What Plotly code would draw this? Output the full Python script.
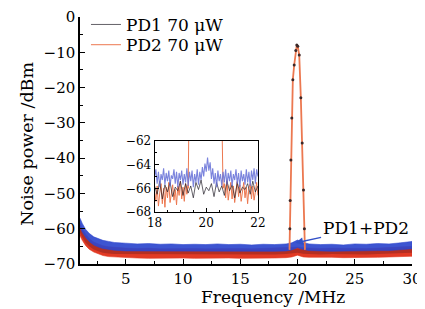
import numpy as np
import plotly.graph_objects as go

# ---------------- data ----------------
# main chart noise envelopes (MHz, dBm)
main_freq = [1.0, 1.2, 1.5, 1.8, 2.2, 2.6, 3.0, 3.5, 4, 5, 6, 7, 8, 9, 10, 11, 12, 13, 14, 15,
             16, 17, 18, 19, 19.5, 20, 20.5, 21, 22, 23, 24, 25, 26, 27, 28, 29, 30]
sum_upper = [-57.0, -58.5, -60.2, -61.3, -62.3, -62.9, -63.3, -63.6, -63.9, -64.1, -64.3, -64.2,
             -64.4, -64.3, -64.5, -64.4, -64.5, -64.3, -64.5, -64.4, -64.6, -64.4, -64.5, -64.3,
             -64.0, -63.2, -63.9, -64.3, -64.5, -64.4, -64.6, -64.3, -64.4, -64.2, -64.3, -64.0, -63.6]
sum_lower = [-59.5, -61.0, -62.5, -63.6, -64.6, -65.2, -65.6, -65.9, -66.1, -66.3, -66.4, -66.3,
             -66.5, -66.4, -66.5, -66.4, -66.5, -66.4, -66.5, -66.4, -66.5, -66.4, -66.4, -66.3,
             -66.0, -65.4, -65.9, -66.2, -66.3, -66.4, -66.3, -66.4, -66.3, -66.2, -66.2, -66.0, -65.7]
pd2_upper = [-58.5, -60.0, -61.6, -62.8, -63.8, -64.4, -64.8, -65.1, -65.3, -65.5, -65.6, -65.5,
             -65.7, -65.6, -65.7, -65.6, -65.7, -65.6, -65.7, -65.6, -65.7, -65.6, -65.6, -65.5,
             -65.4, -65.2, -65.4, -65.5, -65.6, -65.5, -65.6, -65.5, -65.6, -65.5, -65.4, -65.3, -65.0]
pd2_lower = [-62.0, -63.3, -64.8, -65.8, -66.6, -67.2, -67.6, -67.9, -68.1, -68.2, -68.3, -68.4,
             -68.3, -68.4, -68.3, -68.4, -68.3, -68.4, -68.3, -68.4, -68.3, -68.4, -68.3, -68.2,
             -68.0, -67.5, -68.0, -68.1, -68.2, -68.1, -68.2, -68.1, -68.2, -68.1, -68.0, -68.0, -67.8]
pd1_upper = [-59.0, -60.6, -62.2, -63.4, -64.4, -65.0, -65.4, -65.7, -65.9, -66.0, -66.1, -66.0,
             -66.1, -66.0, -66.1, -66.0, -66.1, -66.0, -66.1, -66.0, -66.1, -66.0, -66.0, -65.9,
             -65.8, -65.6, -65.8, -65.9, -66.0, -65.9, -66.0, -65.9, -66.0, -65.9, -65.8, -65.7, -65.5]
pd1_lower = [-61.0, -62.4, -64.0, -65.0, -65.9, -66.4, -66.8, -67.0, -67.2, -67.3, -67.4, -67.3,
             -67.4, -67.3, -67.4, -67.3, -67.4, -67.3, -67.4, -67.3, -67.4, -67.3, -67.3, -67.2,
             -67.1, -66.8, -67.1, -67.2, -67.3, -67.2, -67.3, -67.2, -67.3, -67.2, -67.1, -67.0, -66.8]

# 20 MHz signal peak
peak_freq = [19.30, 19.33, 19.36, 19.42, 19.50, 19.59, 19.71, 19.85, 19.94, 20.02, 20.15, 20.29,
             20.41, 20.52, 20.60, 20.65]
peak_pd2 = [-66.0, -60.0, -52.0, -40.5, -28.6, -17.8, -13.6, -9.5, -7.9, -8.3, -10.8, -22.9,
            -35.7, -49.0, -60.0, -66.0]
peak_pd1 = [-66.0, -60.0, -52.0, -40.5, -28.6, -17.8, -13.6, -9.5, -7.9, -8.3, -10.8, -22.9,
            -35.7, -49.0, -60.0, -66.0]

# inset (18-22 MHz)
inset_sum_freq = np.round(np.arange(18.0, 22.001, 0.05), 2)
inset_sum = [-65.0, -64.4, -65.6, -64.6, -65.9, -64.8, -65.3, -64.3, -65.7, -64.7, -65.4, -64.5,
             -65.8, -64.9, -65.2, -64.4, -65.6, -64.6, -65.9, -64.7, -65.3, -64.5, -65.7, -64.8,
             -65.5, -64.3, -65.8, -64.6, -65.4, -64.5, -65.9, -64.8, -65.5, -64.4, -65.7, -64.6,
             -65.3, -64.2, -65.0, -63.9, -64.6, -63.4, -64.5, -63.8, -65.2, -64.3, -65.6, -64.7,
             -65.9, -64.5, -65.4, -64.8, -65.8, -64.6, -65.5, -64.4, -65.7, -64.7, -65.4, -64.5,
             -65.8, -64.8, -65.3, -64.4, -65.6, -64.7, -65.9, -64.5, -65.4, -64.8, -65.7, -64.4,
             -65.5, -64.6, -65.8, -64.5, -65.3, -64.3, -65.6, -64.4, -65.0]
inset_pd2_left_freq = np.round(np.arange(18.0, 19.301, 0.05), 2)
inset_pd2_left = [-66.2, -67.1, -65.8, -67.5, -66.4, -65.6, -67.3, -66.0, -67.6, -65.9, -66.8,
                  -65.5, -67.2, -66.3, -65.7, -67.0, -66.1, -67.4, -65.8, -66.6, -65.4, -66.9,
                  -65.9, -67.1, -65.6, -66.5, -65.7]
inset_pd2_right_freq = np.round(np.arange(20.70, 22.001, 0.05), 2)
inset_pd2_right = [-65.6, -66.8, -65.3, -67.0, -66.1, -65.5, -66.9, -65.8, -67.2, -66.0, -65.4,
                   -66.7, -65.7, -67.1, -66.2, -65.5, -66.8, -65.9, -67.3, -66.0, -65.6, -66.9,
                   -65.8, -67.0, -66.3, -65.5, -66.6]
inset_pd1_freq = np.round(np.arange(18.0, 22.001, 0.1), 2)
inset_pd1 = [-65.8, -66.5, -65.4, -66.9, -65.7, -66.3, -65.5, -66.7, -65.9, -66.2, -65.4, -66.6,
             -65.6, -66.4, -65.8, -66.8, -65.5, -66.1, -65.3, -66.5, -65.9, -66.2, -65.6, -66.7,
             -65.5, -66.3, -65.8, -66.6, -65.4, -66.2, -65.7, -66.8, -65.5, -66.4, -65.9, -66.1,
             -65.6, -66.5, -65.4, -66.3, -65.8]

# ---------------- styling ----------------
FONT = "DejaVu Serif"
BLUE = "rgba(45,70,205,0.92)"
RED = "rgb(226,58,36)"
ORANGE = "rgb(236,120,80)"
INSET_BLUE = "rgba(100,110,215,0.85)"


def band(freq, upper, lower):
    f = list(freq)
    return f + f[::-1], list(upper) + list(lower)[::-1]


fig = go.Figure()

bx, by = band(main_freq, pd2_upper, pd2_lower)
fig.add_trace(go.Scatter(x=bx, y=by, fill="toself", fillcolor=RED, mode="lines",
                         line=dict(width=0.6, color=RED), showlegend=False, hoverinfo="skip"))
bx, by = band(main_freq, pd1_upper, pd1_lower)
fig.add_trace(go.Scatter(x=bx, y=by, fill="toself", fillcolor="rgba(70,20,30,0.30)", mode="lines",
                         line=dict(width=0), showlegend=False, hoverinfo="skip"))
bx, by = band(main_freq, sum_upper, sum_lower)
fig.add_trace(go.Scatter(x=bx, y=by, fill="toself", fillcolor=BLUE, mode="lines",
                         line=dict(width=0.6, color=BLUE), showlegend=False, hoverinfo="skip"))

# peak
fig.add_trace(go.Scatter(x=peak_freq, y=peak_pd2, mode="lines",
                         line=dict(color=ORANGE, width=1.8), showlegend=False))
fig.add_trace(go.Scatter(x=peak_freq[1:-1], y=peak_pd1[1:-1], mode="markers",
                         marker=dict(color="rgb(60,40,40)", size=3), showlegend=False))

# inset traces
fig.add_trace(go.Scatter(x=list(inset_pd2_left_freq) + peak_freq + list(inset_pd2_right_freq),
                         y=inset_pd2_left + peak_pd2 + inset_pd2_right,
                         mode="lines", line=dict(color=ORANGE, width=1),
                         name="PD2 70 μW", xaxis="x2", yaxis="y2", showlegend=True,
                         legend="legend2"))
fig.add_trace(go.Scatter(x=inset_pd1_freq, y=inset_pd1, mode="lines",
                         line=dict(color="rgb(35,30,40)", width=0.7),
                         name="PD1 70 μW", xaxis="x2", yaxis="y2", showlegend=True,
                         legend="legend"))
fig.add_trace(go.Scatter(x=inset_sum_freq, y=inset_sum, mode="lines",
                         line=dict(color=INSET_BLUE, width=1.1),
                         xaxis="x2", yaxis="y2", showlegend=False))

axis_common = dict(showgrid=False, zeroline=False, showline=True, linecolor="black",
                   ticks="inside", tickcolor="black", automargin=False)

legend_common = dict(xanchor="left", yanchor="middle", bgcolor="rgba(0,0,0,0)",
                     font=dict(size=17, family=FONT, color="black"), itemwidth=30)

# The page body adds an 8px offset; figure size/margins compensate for it.
fig.update_layout(
    width=417, height=301,
    margin=dict(l=72, r=13, t=9, b=45, autoexpand=False),
    paper_bgcolor="white", plot_bgcolor="white",
    font=dict(family=FONT, color="black", size=15),
    legend=dict(x=0.018, y=0.968, **legend_common),
    legend2=dict(x=0.018, y=0.886, **legend_common),
    xaxis=dict(range=[1, 30], tick0=0, dtick=5, ticklen=5, tickwidth=1.2, linewidth=1.5,
               tickfont=dict(size=15),
               minor=dict(dtick=2.5, tick0=0, ticks="inside", ticklen=3, tickcolor="black"),
               **axis_common),
    yaxis=dict(range=[-70, 0], dtick=10, ticklen=5, tickwidth=1.2, linewidth=1.5,
               tickfont=dict(size=15),
               minor=dict(dtick=5, ticks="inside", ticklen=3, tickcolor="black"),
               **axis_common),
    xaxis2=dict(domain=[0.2246, 0.536], anchor="y2", range=[18, 22], dtick=2, ticklen=4,
                linewidth=1, mirror=True, tickfont=dict(size=12),
                minor=dict(dtick=0.5, ticks="inside", ticklen=2.5, tickcolor="black"),
                **axis_common),
    yaxis2=dict(domain=[0.2105, 0.498], anchor="x2", range=[-68, -62], dtick=2, ticklen=4,
                linewidth=1, mirror=True, tickfont=dict(size=12),
                minor=dict(dtick=1, ticks="inside", ticklen=2.5, tickcolor="black"),
                **axis_common),
    annotations=[
        dict(text="Frequency /MHz", xref="paper", yref="paper", x=0.58, y=-0.134,
             showarrow=False, font=dict(size=17), xanchor="center", yanchor="middle"),
        dict(text="Noise power /dBm", xref="paper", yref="paper", x=-0.16, y=0.486,
             textangle=-90, showarrow=False, font=dict(size=17.5), xanchor="center",
             yanchor="middle"),
        dict(text="PD1+PD2", x=19.83, y=-64.0, xref="x", yref="y", ax=70, ay=-15,
             showarrow=True, arrowhead=2, arrowsize=1, arrowwidth=1.5,
             arrowcolor="rgb(50,80,200)", font=dict(size=17)),
    ],
)

fig.write_html("out.html")
